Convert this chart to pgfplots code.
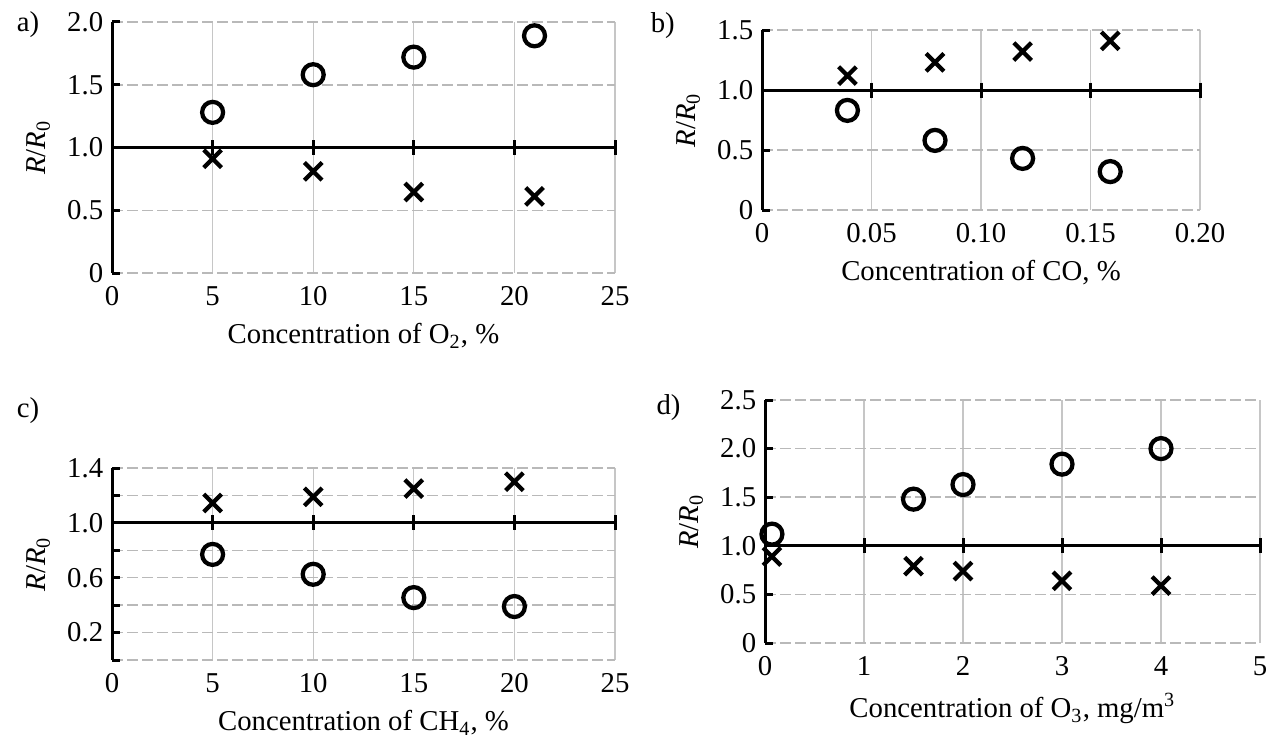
\documentclass[border=0pt]{standalone}
\usepackage{fontspec}
\setmainfont{Liberation Serif}
\usepackage{pgfplots}
\pgfplotsset{compat=1.18}

\pgfplotsset{
  panel/.style={
    scale only axis, clip=false,
    axis x line*=bottom, axis y line*=left,
    x axis line style={draw=none},
    y axis line style={black, line width=1.2pt},
    xmajorgrids, ymajorgrids,
    x grid style={gray!45, line width=0.5pt},
    y grid style={gray!55, line width=0.6pt, dash pattern=on 4.5pt off 1.5pt},
    major x tick style={draw=none},
    major y tick style={black, line width=1.2pt},
    tick align=inside, major tick length=3pt,
    tick label style={font=\fontsize{11.5}{13}\selectfont},
    label style={font=\fontsize{11.5}{13}\selectfont},
    /pgf/number format/assume math mode=true,
    ylabel={\textit{R}/\textit{R}\textsubscript{0}},
    xticklabel style={yshift=-2pt},
  },
  circ/.style={only marks, mark=o, mark size=4.2pt, mark options={black, line width=1.7pt}},
  crs/.style={only marks, mark=x, mark size=5pt, mark options={black, line width=1.7pt}},
  oneline/.style={black, line width=1.2pt, mark=|, mark size=3pt, mark options={solid, line width=1.2pt}},
}
\tikzset{plab/.style={anchor=north west, font=\fontsize{11.5}{13}\selectfont, inner sep=0pt}}

\begin{document}
\begin{tikzpicture}
\useasboundingbox (0pt,0pt) rectangle (514pt,-294.4pt);

% a) O2
\begin{axis}[panel, at={(44.8pt,-109.2pt)}, anchor=south west,
  width=201.2pt, height=100.4pt,
  xmin=0, xmax=25, ymin=0, ymax=2,
  xtick={0,5,...,25},
  ytick={0,0.5,1,1.5,2}, yticklabels={0,0.5,1.0,1.5,2.0},
  xlabel={Concentration of O\textsubscript{2}, \%}]
\addplot[oneline] coordinates {(0,1)(5,1)(10,1)(15,1)(20,1)(25,1)};
\addplot[circ] coordinates {(5,1.28)(10,1.58)(15,1.72)(21,1.89)};
\addplot[crs] coordinates {(5,0.91)(10,0.81)(15,0.645)(21,0.61)};
\node[plab] at (rel axis cs:-0.19,1.045) {a)};
\end{axis}

% b) CO
\begin{axis}[panel, at={(304.8pt,-84pt)}, anchor=south west,
  width=175.2pt, height=72pt,
  xmin=0, xmax=0.2, ymin=0, ymax=1.5,
  xtick={0,0.05,0.1,0.15,0.2}, xticklabels={0,0.05,0.10,0.15,0.20},
  ytick={0,0.5,1,1.5}, yticklabels={0,0.5,1.0,1.5},
  xlabel={Concentration of CO, \%}]
\addplot[oneline] coordinates {(0,1)(0.05,1)(0.1,1)(0.15,1)(0.2,1)};
\addplot[crs] coordinates {(0.039,1.12)(0.079,1.23)(0.119,1.32)(0.159,1.41)};
\addplot[circ] coordinates {(0.039,0.83)(0.079,0.58)(0.119,0.43)(0.159,0.32)};
\node[plab] at (rel axis cs:-0.255,1.1) {b)};
\end{axis}

% c) CH4
\begin{axis}[panel, at={(44.8pt,-264pt)}, anchor=south west,
  width=201.2pt, height=76.8pt,
  xmin=0, xmax=25, ymin=0, ymax=1.4,
  xtick={0,5,...,25},
  ytick={0,0.2,0.4,0.6,0.8,1.0,1.2,1.4}, yticklabels={,0.2,,0.6,,1.0,,1.4},
  xlabel={Concentration of CH\textsubscript{4}, \%}]
\addplot[oneline] coordinates {(0,1)(5,1)(10,1)(15,1)(20,1)(25,1)};
\addplot[crs] coordinates {(5,1.145)(10,1.19)(15,1.25)(20,1.30)};
\addplot[circ] coordinates {(5,0.77)(10,0.625)(15,0.455)(20,0.39)};
\node[plab] at (rel axis cs:-0.19,1.37) {c)};
\end{axis}

% d) O3
\begin{axis}[panel, at={(306pt,-257.2pt)}, anchor=south west,
  width=198pt, height=97.2pt,
  xmin=0, xmax=5, ymin=0, ymax=2.5,
  xtick={0,1,...,5},
  ytick={0,0.5,1,1.5,2,2.5}, yticklabels={0,0.5,1.0,1.5,2.0,2.5},
  xlabel={Concentration of O\textsubscript{3}, mg/m\textsuperscript{3}}]
\addplot[oneline] coordinates {(0,1)(1,1)(2,1)(3,1)(4,1)(5,1)};
\addplot[circ] coordinates {(0.07,1.12)(1.5,1.48)(2,1.63)(3,1.84)(4,2.0)};
\addplot[crs] coordinates {(0.07,0.89)(1.5,0.79)(2,0.74)(3,0.64)(4,0.59)};
\node[plab] at (rel axis cs:-0.22,1.025) {d)};
\end{axis}
\end{tikzpicture}
\end{document}
